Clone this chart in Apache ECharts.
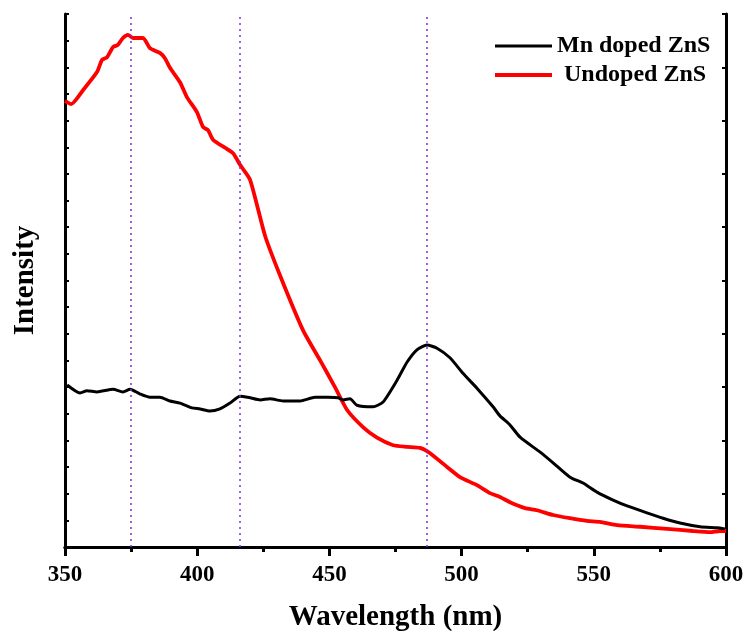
<!DOCTYPE html>
<html>
<head>
<meta charset="utf-8">
<script src="https://cdn.jsdelivr.net/npm/echarts@6/dist/echarts.min.js"></script>
<style>
html, body { margin: 0; padding: 0; background: #fff; }
#chart { width: 746px; height: 631px; }
</style>
</head>
<body>
<div id="chart"></div>
<script>
// values (intensity in arbitrary units 0..100)
var mn_wavelength = [350.8, 355.7, 358.3, 362.1, 368.2, 371.9, 374.6, 378.4, 382.1, 385.9, 389.7, 393.5, 398.0, 401.1, 404.8, 408.6, 412.4, 416.2, 420.0, 423.8, 427.5, 432.5, 438.9, 444.6, 449.5, 453.3, 455.1, 457.8, 460.4, 466.5, 470.3, 475.6, 479.4, 483.1, 486.9, 490.7, 495.6, 500.5, 505.8, 511.9, 514.5, 518.3, 522.1, 529.7, 534.6, 541.0, 545.9, 551.2, 557.3, 562.6, 570.1, 576.2, 582.6, 590.2, 596.6, 599.6];
var mn_intensity = [30.4, 28.9, 29.3, 29.1, 29.6, 29.1, 29.6, 28.7, 28.1, 28.1, 27.4, 27.0, 26.1, 25.9, 25.5, 25.9, 27.0, 28.3, 28.0, 27.6, 27.8, 27.4, 27.4, 28.1, 28.1, 28.0, 27.6, 27.8, 26.6, 26.3, 27.2, 31.3, 34.7, 37.0, 37.9, 37.3, 35.5, 32.6, 29.8, 26.3, 24.6, 22.9, 20.6, 17.8, 15.8, 13.1, 12.0, 10.3, 8.8, 7.7, 6.4, 5.4, 4.5, 3.8, 3.6, 3.4];

var undoped_wavelength = [350.0, 352.3, 356.8, 362.1, 364.0, 365.9, 368.2, 370.0, 371.9, 373.8, 375.7, 379.5, 382.1, 385.9, 387.8, 389.7, 393.5, 396.1, 399.9, 402.2, 404.1, 406.0, 413.5, 416.2, 420.0, 425.6, 431.3, 440.0, 446.4, 452.1, 456.7, 462.7, 468.0, 474.1, 479.4, 484.3, 488.1, 494.5, 499.4, 505.8, 510.7, 514.5, 518.3, 524.0, 528.5, 534.6, 541.0, 547.4, 552.3, 558.8, 567.5, 577.7, 587.5, 594.0, 597.7, 600.0];
var undoped_intensity = [83.7, 83.1, 85.7, 89.1, 91.4, 91.9, 93.8, 94.2, 95.5, 96.1, 95.5, 95.5, 93.6, 92.7, 91.7, 89.9, 87.2, 84.4, 81.6, 78.8, 78.2, 76.4, 73.9, 71.7, 68.9, 58.5, 51.0, 40.7, 35.1, 30.0, 25.7, 22.5, 20.5, 19.1, 18.8, 18.6, 17.6, 15.0, 13.1, 11.6, 10.1, 9.4, 8.4, 7.3, 6.9, 6.0, 5.4, 4.9, 4.7, 4.1, 3.8, 3.4, 3.0, 2.8, 3.0, 3.0];

var peak_lines = [375, 416, 487];
var series_names = ['Mn doped ZnS', 'Undoped ZnS'];

function make_pairs(xs, ys) {
	var out = [];
	for (var i = 0; i < xs.length; i++) {
		out.push([xs[i], ys[i]]);
	}
	return out;
}

var font = '"Liberation Serif", "Times New Roman", serif';
var chart = echarts.init(document.getElementById('chart'));

var marks = [];
for (var i = 0; i < peak_lines.length; i++) {
	marks.push({ xAxis: peak_lines[i] });
}

var option = {
	animation: false,
	grid: { left: 65, right: 20, top: 14, bottom: 84, outerBoundsMode: 'none' },
	legend: [{
		data: [series_names[0]],
		left: 490, top: 29,
		icon: 'rect', itemWidth: 57, itemHeight: 3, itemGap: 6,
		textStyle: { fontFamily: font, fontWeight: 'bold', fontSize: 24, color: '#000' }
	}, {
		data: [series_names[1]],
		left: 490, top: 58,
		icon: 'rect', itemWidth: 57, itemHeight: 4,
		textStyle: { fontFamily: font, fontWeight: 'bold', fontSize: 24, color: '#000', padding: [0, 0, 0, 7] }
	}],
	xAxis: [{
		type: 'value', min: 350, max: 600, interval: 50,
		position: 'bottom',
		name: 'Wavelength (nm)', nameLocation: 'middle', nameGap: 56,
		nameTextStyle: { fontFamily: font, fontWeight: 'bold', fontSize: 29, color: '#000' },
		axisLine: { lineStyle: { color: '#000', width: 3 } },
		axisTick: { length: 9, lineStyle: { color: '#000', width: 3 } },
		minorTick: { show: true, splitNumber: 2, length: 5, lineStyle: { color: '#000', width: 3 } },
		axisLabel: { fontFamily: font, fontWeight: 'bold', fontSize: 23, color: '#000', margin: 17 },
		splitLine: { show: false }
	}, {
		type: 'value', min: 350, max: 600, interval: 25,
		position: 'top',
		axisLine: { lineStyle: { color: '#000', width: 3 } },
		axisTick: { inside: true, length: 4, lineStyle: { color: '#000', width: 2 } },
		axisLabel: { show: false },
		splitLine: { show: false }
	}],
	yAxis: [{
		type: 'value', min: 0, max: 100, interval: 5,
		position: 'left',
		name: 'Intensity', nameLocation: 'middle', nameGap: 25,
		nameTextStyle: { fontFamily: font, fontWeight: 'bold', fontSize: 29, color: '#000' },
		axisLine: { show: true, lineStyle: { color: '#000', width: 3 } },
		axisTick: { show: true, inside: true, length: 4, lineStyle: { color: '#000', width: 2 } },
		axisLabel: { show: false },
		splitLine: { show: false }
	}, {
		type: 'value', min: 0, max: 100, interval: 10,
		position: 'right',
		axisLine: { show: true, lineStyle: { color: '#000', width: 3 } },
		axisTick: { show: true, inside: true, length: 4, lineStyle: { color: '#000', width: 2 } },
		axisLabel: { show: false },
		splitLine: { show: false }
	}],
	series: [{
		name: series_names[0],
		type: 'line',
		showSymbol: false,
		smooth: 0.2,
		color: '#000',
		lineStyle: { color: '#000', width: 3 },
		data: make_pairs(mn_wavelength, mn_intensity),
		markLine: {
			silent: true,
			symbol: 'none',
			label: { show: false },
			lineStyle: { color: '#7a2cf0', type: [2, 4], width: 1.5 },
			data: marks
		},
		z: 3
	}, {
		name: series_names[1],
		type: 'line',
		showSymbol: false,
		smooth: 0.2,
		color: '#ff0000',
		lineStyle: { color: '#ff0000', width: 3.8 },
		data: make_pairs(undoped_wavelength, undoped_intensity),
		z: 2
	}]
};
chart.setOption(option);
</script>
</body>
</html>
